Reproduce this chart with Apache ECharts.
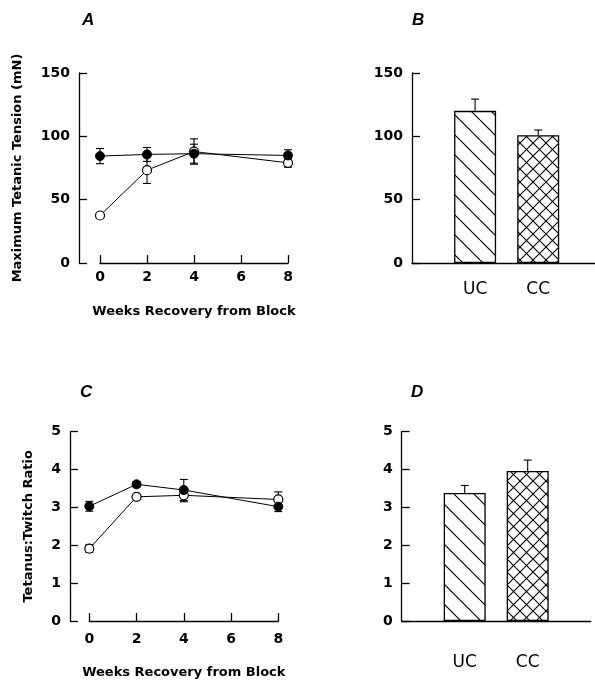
<!DOCTYPE html>
<html>
<head>
<meta charset="utf-8">
<script src="https://cdn.jsdelivr.net/npm/echarts@6/dist/echarts.min.js"></script>
<style>
html,body{margin:0;padding:0;background:#fff;}
#chart{width:595px;height:681px;}
</style>
</head>
<body>
<div id="chart"></div>
<script>
// ---- data ----
var weeks = [0, 2, 4, 8];
var weekTicks = [0, 2, 4, 6, 8];
var tensionFilled = [84.4, 85.7, 86.3, 84.9];
var tensionFilledErr = [6, 5.5, 7.5, 4.5];
var tensionOpen = [37.5, 73.3, 88, 79.1];
var tensionOpenErr = [2, 10.5, 10, 3.5];
var ratioFilled = [3.03, 3.61, 3.46, 3.02];
var ratioFilledErr = [0.13, 0.07, 0.28, 0.13];
var ratioOpen = [1.91, 3.28, 3.32, 3.21];
var ratioOpenErr = [0.1, 0.04, 0.17, 0.2];
var controlCats = ['UC', 'CC'];
var tensionCtrl = [120.1, 100.8];
var tensionCtrlErr = [9.3, 4.2];
var ratioCtrl = [3.38, 3.96];
var ratioCtrlErr = [0.2, 0.29];
var panelLetters = ['A', 'B', 'C', 'D'];
var xTitle = 'Weeks Recovery from Block';
var yTitleTension = 'Maximum Tetanic Tension (mN)';
var yTitleRatio = 'Tetanus:Twitch Ratio';

// ---- patterns ----
function makeHatch(size, dirs, lw) {
  var c = document.createElement('canvas');
  c.width = size; c.height = size;
  var ctx = c.getContext('2d');
  ctx.fillStyle = '#fff';
  ctx.fillRect(0, 0, size, size);
  ctx.strokeStyle = '#000';
  ctx.lineWidth = lw;
  for (var k = -1; k <= 1; k++) {
    dirs.forEach(function (d) {
      ctx.beginPath();
      if (d === '\\') { ctx.moveTo(k * size, 0); ctx.lineTo(k * size + size, size); }
      else { ctx.moveTo(k * size, size); ctx.lineTo(k * size + size, 0); }
      ctx.stroke();
    });
  }
  return c;
}
var hatchUC = { image: makeHatch(20, ['\\'], 1.2), repeat: 'repeat' };
var hatchCC = { image: makeHatch(13, ['\\', '/'], 1.1), repeat: 'repeat' };
var barFills = [hatchUC, hatchCC];

var FONT = 'DejaVu Sans';
var axisLineStyle = { color: '#000', width: 1.3 };

function pairs(xs, ys, es) {
  return xs.map(function (x, i) { return es ? [x, ys[i], es[i]] : [x, ys[i]]; });
}

function errRender(capW, upOnly) {
  return function (params, api) {
    var x = api.value(0), y = api.value(1), e = api.value(2);
    var top = api.coord([x, y + e]);
    var bot = upOnly ? api.coord([x, y]) : api.coord([x, y - e]);
    var st = { stroke: '#000', lineWidth: 1.1 };
    var children = [
      { type: 'line', shape: { x1: top[0], y1: top[1], x2: bot[0], y2: bot[1] }, style: st },
      { type: 'line', shape: { x1: top[0] - capW / 2, y1: top[1], x2: top[0] + capW / 2, y2: top[1] }, style: st }
    ];
    if (!upOnly) children.push({ type: 'line', shape: { x1: bot[0] - capW / 2, y1: bot[1], x2: bot[0] + capW / 2, y2: bot[1] }, style: st });
    return { type: 'group', children: children };
  };
}

function lineYAxis(gi, max, interval, offset, name, gap) {
  return {
    gridIndex: gi, type: 'value', min: 0, max: max, interval: interval, offset: offset,
    name: name, nameLocation: 'middle', nameGap: gap, nameMoveOverlap: false,
    nameTextStyle: { fontFamily: FONT, fontWeight: 'bold', fontSize: 13, color: '#000' },
    axisLine: { show: true, onZero: false, lineStyle: axisLineStyle },
    axisTick: { show: true, inside: true, length: 8, lineStyle: axisLineStyle },
    axisLabel: { fontFamily: FONT, fontWeight: 'bold', fontSize: 14, color: '#000', margin: 9 },
    splitLine: { show: false }
  };
}
function weekXAxis(gi, gap, labelMargin) {
  return {
    gridIndex: gi, type: 'value', min: weekTicks[0], max: weekTicks[weekTicks.length - 1], interval: 2,
    name: xTitle, nameLocation: 'middle', nameGap: gap, nameMoveOverlap: false,
    nameTextStyle: { fontFamily: FONT, fontWeight: 'bold', fontSize: 13, color: '#000' },
    axisLine: { show: true, onZero: false, lineStyle: axisLineStyle },
    axisTick: { show: true, inside: true, length: 8, lineStyle: axisLineStyle },
    axisLabel: { fontFamily: FONT, fontWeight: 'bold', fontSize: 14, color: '#000', margin: labelMargin },
    splitLine: { show: false }
  };
}
function ctrlXAxis(gi, max, labelMargin) {
  return {
    gridIndex: gi, type: 'value', min: 0, max: max, interval: 1,
    axisLine: { show: true, onZero: false, lineStyle: axisLineStyle },
    axisTick: { show: false },
    axisLabel: {
      fontFamily: FONT, fontSize: 17, color: '#000', margin: labelMargin, showMaxLabel: false,
      formatter: function (v) { var i = Math.round(v) - 1; return (i >= 0 && i < controlCats.length && Math.abs(v - i - 1) < 1e-6) ? controlCats[i] : ''; }
    },
    splitLine: { show: false }
  };
}

function lineSeries(ai, ys, filled) {
  return {
    type: 'line', xAxisIndex: ai, yAxisIndex: ai, data: pairs(weeks, ys),
    symbol: 'circle', symbolSize: 9, z: 4,
    lineStyle: { color: '#000', width: 1 },
    itemStyle: filled ? { color: '#000', borderColor: '#000', borderWidth: 1 } : { color: '#fff', borderColor: '#000', borderWidth: 1.2 },
    silent: true
  };
}
function errSeries(ai, xs, ys, es, capW, upOnly) {
  return {
    type: 'custom', xAxisIndex: ai, yAxisIndex: ai, data: pairs(xs, ys, es),
    encode: { x: 0, y: 1 }, renderItem: errRender(capW, upOnly), z: 3, silent: true
  };
}
function barSeries(ai, ys) {
  return {
    type: 'bar', xAxisIndex: ai, yAxisIndex: ai, barWidth: 42, z: 2, silent: true,
    data: ys.map(function (v, i) {
      return { value: [i + 1, v], itemStyle: { color: barFills[i], borderColor: '#000', borderWidth: 1.3 } };
    })
  };
}

var ctrlPos = controlCats.map(function (c, i) { return i + 1; });

var option = {
  animation: false,
  backgroundColor: '#fff',
  title: [
    { text: panelLetters[0], left: 82, top: 12 },
    { text: panelLetters[1], left: 412, top: 12 },
    { text: panelLetters[2], left: 80, top: 384 },
    { text: panelLetters[3], left: 411, top: 384 }
  ].map(function (t) {
    t.textStyle = { fontFamily: 'Liberation Sans', fontWeight: 'bold', fontStyle: 'italic', fontSize: 17, color: '#000' };
    t.padding = 0;
    return t;
  }),
  grid: [
    { left: 100, top: 73, width: 188, height: 190 },
    { left: 412, top: 73, width: 183, height: 190 },
    { left: 89.3, top: 431.7, width: 189, height: 189.3 },
    { left: 401.7, top: 431.7, width: 189, height: 189.3 }
  ],
  xAxis: [
    weekXAxis(0, 42, 7),
    ctrlXAxis(1, 2.9, 18),
    weekXAxis(2, 45, 11),
    ctrlXAxis(3, 3, 33)
  ],
  yAxis: [
    lineYAxis(0, 150, 50, 21, yTitleTension, 55),
    lineYAxis(1, 150, 50, 0, '', 0),
    lineYAxis(2, 5, 1, 19.3, yTitleRatio, 35),
    lineYAxis(3, 5, 1, 0, '', 0)
  ],
  series: [
    errSeries(0, weeks, tensionOpen, tensionOpenErr, 8, false),
    errSeries(0, weeks, tensionFilled, tensionFilledErr, 8, false),
    lineSeries(0, tensionOpen, false),
    lineSeries(0, tensionFilled, true),
    barSeries(1, tensionCtrl),
    errSeries(1, ctrlPos, tensionCtrl, tensionCtrlErr, 8, true),
    errSeries(2, weeks, ratioOpen, ratioOpenErr, 8, false),
    errSeries(2, weeks, ratioFilled, ratioFilledErr, 8, false),
    lineSeries(2, ratioOpen, false),
    lineSeries(2, ratioFilled, true),
    barSeries(3, ratioCtrl),
    errSeries(3, ctrlPos, ratioCtrl, ratioCtrlErr, 8, true)
  ]
};

var chart = echarts.init(document.getElementById('chart'), null, { renderer: 'canvas' });
chart.setOption(option);
</script>
</body>
</html>
